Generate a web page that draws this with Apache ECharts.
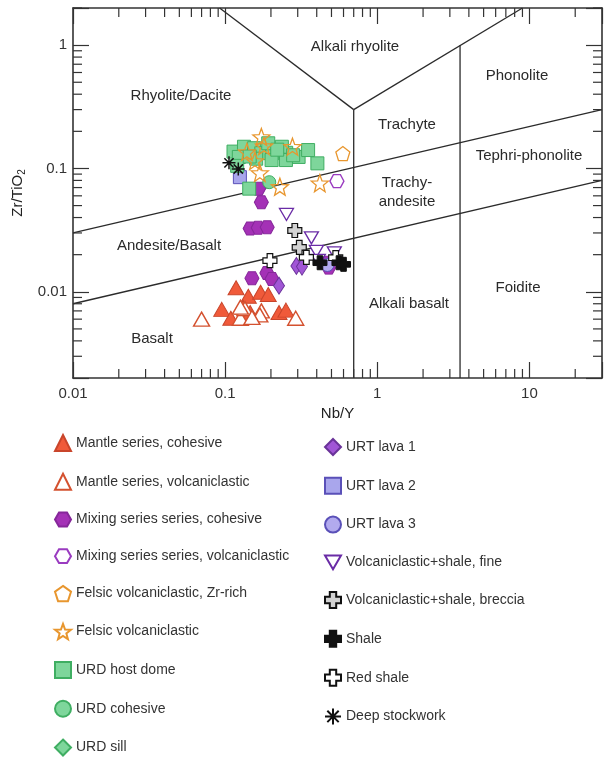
<!DOCTYPE html>
<html><head><meta charset="utf-8">
<script src="https://cdn.jsdelivr.net/npm/echarts@6/dist/echarts.min.js"></script>
<style>html,body{margin:0;padding:0;background:#fff}#c{width:605px;height:758px}</style>
</head><body><div id="c"></div>
<script>
// ---- axis ranges & tick labels ----
const xRange = [0.01, 30];
const yRange = [0.002, 2];
const xTickLabels = ['0.01', '0.1', '1', '10'];
const yTickLabels = ['0.01', '0.1', '1'];
const xMinorTicks = [0.02,0.03,0.04,0.05,0.06,0.07,0.08,0.09,0.2,0.3,0.4,0.5,0.6,0.7,0.8,0.9,2,3,4,5,6,7,8,9,20];
const yMinorTicks = [0.003,0.004,0.005,0.006,0.007,0.008,0.009,0.02,0.03,0.04,0.05,0.06,0.07,0.08,0.09,0.2,0.3,0.4,0.5,0.6,0.7,0.8,0.9,2];

// ---- field boundaries (Nb/Y, Zr/TiO2) ----
const lineUpper = [[0.01, 0.03], [30, 0.3]];
const lineLower = [[0.01, 0.008], [30, 0.08]];
const vLeftArm = [[0.092, 2], [0.7, 0.3]];
const vRightArm = [[0.7, 0.3], [9.0, 2]];
const vert07 = [[0.7, 0.3], [0.7, 0.002]];
const vert35 = [[3.5, 1.0], [3.5, 0.002]];

// ---- sample data ----
const mantleCohesive = [[0.118,0.0108],[0.142,0.0092],[0.171,0.0099],[0.192,0.0095],[0.095,0.0072],[0.109,0.0061],[0.131,0.0075],[0.146,0.0068],[0.226,0.0068],[0.251,0.0071]];
const mantleVolc = [[0.070,0.0060],[0.126,0.0061],[0.135,0.0073],[0.173,0.0070],[0.169,0.0065],[0.291,0.0061],[0.126,0.0075],[0.150,0.0062]];
const mixingCohesive = [[0.166,0.0686],[0.173,0.0533],[0.146,0.0326],[0.165,0.0331],[0.189,0.0334],[0.150,0.0129],[0.188,0.0142],[0.203,0.0127],[0.469,0.0172],[0.48,0.0157]];
const mixingVolc = [[0.543,0.0789]];
const felsicZr = [[0.594,0.132]];
const felsic = [[0.173,0.180],[0.139,0.136],[0.169,0.092],[0.229,0.071],[0.419,0.076],[0.18,0.152],[0.157,0.115],[0.277,0.150]];
const urdDome = [[0.1135,0.137],[0.133,0.150],[0.155,0.146],[0.173,0.133],[0.204,0.133],[0.252,0.134],[0.304,0.124],[0.351,0.141],[0.404,0.110],[0.144,0.0686],[0.123,0.124],[0.251,0.117],[0.202,0.117],[0.192,0.160],[0.236,0.150],[0.12,0.105],[0.16,0.12],[0.28,0.128],[0.22,0.142],[0.145,0.125]];
const urdCohesive = [[0.195,0.0774]];
const urdSill = [[0.16,0.125]];
const urtLava1 = [[0.226,0.0112],[0.294,0.0162],[0.32,0.016]];
const urtLava2 = [[0.125,0.085]];
const urtLava3 = [[0.47,0.0165]];
const vsFine = [[0.253,0.0424],[0.369,0.0274],[0.398,0.0213],[0.522,0.0207],[0.41,0.018]];
const vsBreccia = [[0.287,0.0314],[0.307,0.0229]];
const shale = [[0.42,0.0172],[0.56,0.0172],[0.60,0.0167]];
const redShale = [[0.197,0.0179],[0.342,0.019],[0.533,0.0189]];
const deepStock = [[0.106,0.111],[0.122,0.099]];

const legendLeft = ['Mantle series, cohesive','Mantle series, volcaniclastic','Mixing series series, cohesive','Mixing series series, volcaniclastic','Felsic volcaniclastic, Zr-rich','Felsic volcaniclastic','URD host dome','URD cohesive','URD sill'];
const legendRight = ['URT lava 1','URT lava 2','URT lava 3','Volcaniclastic+shale, fine','Volcaniclastic+shale, breccia','Shale','Red shale','Deep stockwork'];

const FONT = '"Liberation Sans", Arial, Helvetica, sans-serif';
const SYM = {
  hex: 'path://M0,8.66 L5,0 L15,0 L20,8.66 L15,17.32 L5,17.32 Z',
  pent: 'path://M10,0 L19.51,6.91 L15.88,18.09 L4.12,18.09 L0.49,6.91 Z',
  star: 'path://M10,0 L12.47,6.6 L19.51,6.91 L14,11.3 L15.88,18.09 L10,14.2 L4.12,18.09 L6,11.3 L0.49,6.91 L7.53,6.6 Z',
  dtri: 'path://M0,0 L20,0 L10,17.32 Z',
  plus: 'path://M6,0 L14,0 L14,6 L20,6 L20,14 L14,14 L14,20 L6,20 L6,14 L0,14 L0,6 L6,6 Z',
  ast: 'path://M10,0 L10,20 M0,10 L20,10 M2.9,2.9 L17.1,17.1 M2.9,17.1 L17.1,2.9'
};

function sc(name, data, symbol, size, fill, border, bw) {
  return { name, type: 'scatter', data, symbol, symbolSize: size, silent: true,
    itemStyle: { color: fill, borderColor: border, borderWidth: bw, opacity: 1 } };
}
function bline(data) {
  return { type: 'line', data, symbol: 'none', silent: true, z: 1,
    lineStyle: { color: '#2b2b2b', width: 1.3 } };
}
function isPow10(v) { const l = Math.log10(v); return Math.abs(l - Math.round(l)) < 1e-6 ? Math.round(l) : null; }

const TICK = '#333';
const minorLen = 9;
function xMinorRender(params, api) {
  const cs = params.coordSys;
  const x = api.coord([api.value(0), yRange[0]])[0];
  const b = cs.y + cs.height, t = cs.y;
  return { type: 'group', children: [
    { type: 'line', shape: { x1: x, y1: b, x2: x, y2: b - minorLen }, style: { stroke: TICK, lineWidth: 1.2 } },
    { type: 'line', shape: { x1: x, y1: t, x2: x, y2: t + minorLen }, style: { stroke: TICK, lineWidth: 1.2 } }
  ]};
}
function yMinorRender(params, api) {
  const cs = params.coordSys;
  const y = api.coord([xRange[0], api.value(1)])[1];
  const l = cs.x, r = cs.x + cs.width;
  return { type: 'group', children: [
    { type: 'line', shape: { x1: l, y1: y, x2: l + minorLen, y2: y }, style: { stroke: TICK, lineWidth: 1.2 } },
    { type: 'line', shape: { x1: r, y1: y, x2: r - minorLen, y2: y }, style: { stroke: TICK, lineWidth: 1.2 } }
  ]};
}

const axisLine = { show: true, lineStyle: { color: '#333', width: 1.6 } };
const majorTick = { show: true, inside: true, length: 16, lineStyle: { color: TICK, width: 1.2 } };

const regionLabels = [
  ['Alkali rhyolite', 355, 47], ['Phonolite', 517, 76], ['Rhyolite/Dacite', 181, 96],
  ['Trachyte', 407, 125], ['Tephri-phonolite', 529, 156], ['Trachy-\nandesite', 407, 192],
  ['Andesite/Basalt', 169, 246], ['Foidite', 518, 288], ['Alkali basalt', 409, 304], ['Basalt', 152, 339]
];

const legendCommon = { orient: 'vertical', itemWidth: 16, itemHeight: 16, itemGap: 20.8, padding: 0,
  height: 330, selectedMode: false, textStyle: { fontSize: 14, color: '#333', fontFamily: FONT } };

const chart = echarts.init(document.getElementById('c'), null, { renderer: 'canvas' });
chart.setOption({
  animation: false,
  backgroundColor: '#fff',
  textStyle: { fontFamily: FONT },
  grid: { left: 73, right: 3, top: 8, bottom: 380 },
  xAxis: [
    { type: 'log', logBase: 10, min: xRange[0], max: xRange[1], position: 'bottom',
      name: 'Nb/Y', nameLocation: 'middle', nameGap: 28,
      nameTextStyle: { fontSize: 15, color: '#222', fontFamily: FONT },
      axisLine, axisTick: majorTick, splitLine: { show: false },
      axisLabel: { margin: 8, fontSize: 15, color: '#333', fontFamily: FONT, showMinLabel: true, showMaxLabel: true,
        formatter: v => { const p = isPow10(v); return p === null ? '' : (xTickLabels[p + 2] || ''); } } },
    { type: 'log', logBase: 10, min: xRange[0], max: xRange[1], position: 'top',
      axisLine, axisTick: majorTick, axisLabel: { show: false }, splitLine: { show: false } }
  ],
  yAxis: [
    { type: 'log', logBase: 10, min: yRange[0], max: yRange[1], position: 'left',
      name: 'Zr/TiO{s|2}', nameLocation: 'middle', nameGap: 41,
      nameTextStyle: { fontSize: 15, color: '#222', fontFamily: FONT,
        rich: { s: { fontSize: 10, color: '#222', fontFamily: FONT, padding: [8, 0, 0, 0] } } },
      axisLine, axisTick: majorTick, splitLine: { show: false },
      axisLabel: { margin: 6, fontSize: 15, color: '#333', fontFamily: FONT,
        formatter: v => { const p = isPow10(v); return p === null ? '' : (yTickLabels[p + 2] || ''); } } },
    { type: 'log', logBase: 10, min: yRange[0], max: yRange[1], position: 'right',
      axisLine, axisTick: majorTick, axisLabel: { show: false }, splitLine: { show: false } }
  ],
  legend: [
    Object.assign({ data: legendLeft, left: 54, top: 434 }, legendCommon),
    Object.assign({ data: legendRight, left: 324, top: 438 }, legendCommon)
  ],
  graphic: regionLabels.map(([t, x, y]) => ({
    type: 'text', x, y, silent: true, z: 5,
    style: { text: t, fill: '#2a2a2a', font: '15px ' + FONT, align: 'center', verticalAlign: 'middle',
      textAlign: 'center', textVerticalAlign: 'middle', lineHeight: 19 }
  })),
  series: [
    { type: 'custom', silent: true, data: xMinorTicks.map(v => [v, yRange[0]]), renderItem: xMinorRender, z: 3 },
    { type: 'custom', silent: true, data: yMinorTicks.map(v => [xRange[0], v]), renderItem: yMinorRender, z: 3 },
    bline(lineUpper), bline(lineLower), bline(vLeftArm), bline(vRightArm), bline(vert07), bline(vert35),
    sc('Mantle series, cohesive', mantleCohesive, 'triangle', [16, 14], '#F05A3A', '#C9452B', 1),
    sc('Mantle series, volcaniclastic', mantleVolc, 'triangle', [16, 14], '#ffffff', '#D4512F', 1.4),
    sc('Mixing series series, cohesive', mixingCohesive, SYM.hex, [14, 13], '#A431B6', '#86279A', 1),
    sc('Mixing series series, volcaniclastic', mixingVolc, SYM.hex, [14, 13], '#ffffff', '#9A3BC0', 1.3),
    sc('Volcaniclastic+shale, fine', vsFine, SYM.dtri, [14, 12], '#ffffff', '#6A2CA6', 1.3),
    sc('URT lava 1', urtLava1, 'diamond', [11, 17], '#A156D6', '#6A3399', 1),
    sc('URT lava 3', urtLava3, 'circle', 13, '#B2AAEE', '#5A50B8', 1),
    sc('Volcaniclastic+shale, breccia', vsBreccia, SYM.plus, 14, '#D2D2D2', '#111111', 1.2),
    sc('Red shale', redShale, SYM.plus, 14, '#ffffff', '#111111', 1.2),
    sc('Shale', shale, SYM.plus, 14, '#111111', '#111111', 1),
    sc('URD sill', urdSill, 'diamond', [11, 17], '#7ED69B', '#3FAE62', 1),
    sc('URT lava 2', urtLava2, 'rect', 13, '#A9A6EC', '#5A50B8', 1),
    sc('URD host dome', urdDome, 'rect', 13, '#7ED69B', '#3FAE62', 1),
    sc('URD cohesive', urdCohesive, 'circle', 13, '#7ED69B', '#3FAE62', 1),
    sc('Felsic volcaniclastic', felsic, SYM.star, 17, 'rgba(255,255,255,0)', '#E8962E', 1.3),
    sc('Felsic volcaniclastic, Zr-rich', felsicZr, SYM.pent, 14, '#ffffff', '#E8962E', 1.3),
    sc('Deep stockwork', deepStock, SYM.ast, 13, '#111111', '#111111', 1.5)
  ]
});
</script></body></html>
